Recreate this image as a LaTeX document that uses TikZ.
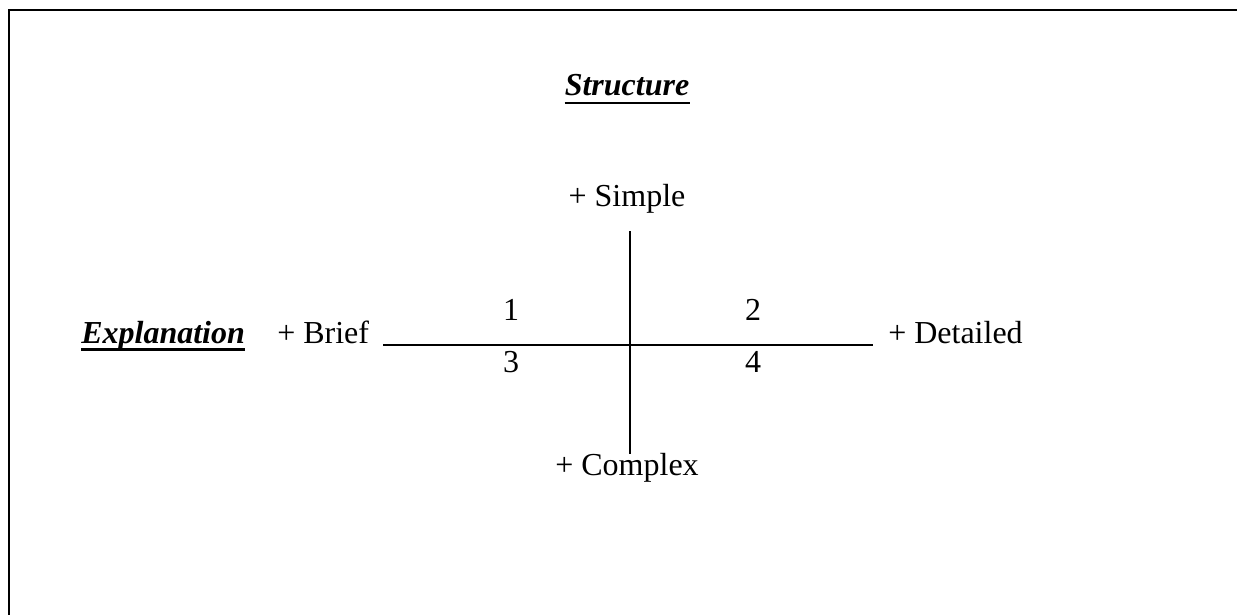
\documentclass[tikz,border=0pt]{standalone}
\usepackage{fontspec}
\setmainfont{Liberation Serif}
\begin{document}
\begin{tikzpicture}[x=0.75pt,y=-0.75pt,
  lbl/.style={inner sep=0pt,anchor=base,font=\fontsize{24}{28}\selectfont},
  ttl/.style={lbl,font=\fontsize{24}{28}\selectfont\bfseries\itshape},
  axis/.style={line width=1.5pt},
  uline/.style={line width=2.2pt}]
\useasboundingbox (0,0) rectangle (1237,614);
\clip (0,0) rectangle (1237,614);
\draw[line width=1.6pt] (9,700) -- (9,10) -- (1300,10);
% title
\node[ttl] (st) at (627,95) {Structure};
\draw[uline] ([yshift=-6pt]st.base west) -- ([yshift=-6pt]st.base east);
\node[ttl,anchor=base west] (ex) at (81,343) {Explanation};
\draw[uline] ([yshift=-5pt]ex.base west) -- ([yshift=-5pt]ex.base east);
% axis labels
\node[lbl] (simple) at (627,206) {+ Simple};
\node[lbl] (complex) at (627,475) {+ Complex};
\node[lbl,anchor=base west] (brief) at (277,343) {+ Brief};
\node[lbl,anchor=base west] (detailed) at (888,343) {+ Detailed};
% axes
\coordinate (top) at (630,231);
\coordinate (bot) at (630,454);
\coordinate (left) at (383,345);
\coordinate (right) at (873,345);
\draw[axis] (top) -- (bot);
\draw[axis] (left) -- (right);
% quadrant numbers
\node[lbl] (q1) at (511,320) {1};
\node[lbl] (q2) at (753,320) {2};
\node[lbl] (q3) at (511,372) {3};
\node[lbl] (q4) at (753,372) {4};
\end{tikzpicture}
\end{document}
